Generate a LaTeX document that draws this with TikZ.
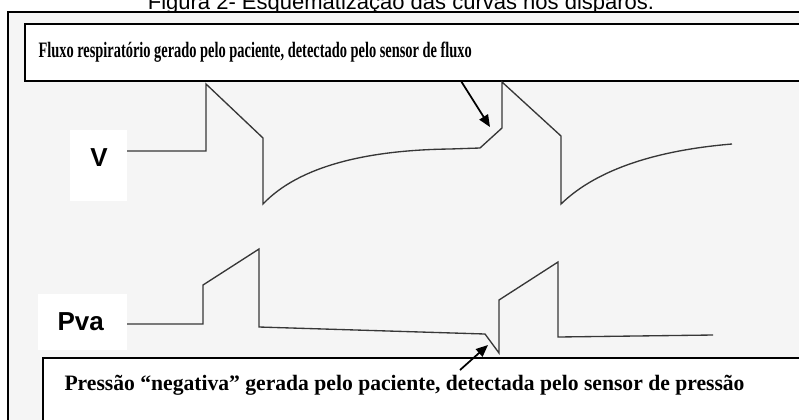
\documentclass[tikz,border=0pt]{standalone}
\usepackage{fontspec}
\setmainfont{Liberation Serif}
\newfontfamily\arialfont{Liberation Sans}
\usepackage{graphicx}
\usetikzlibrary{arrows.meta}
\tikzset{every picture/.style={line width=0.75pt}}

\begin{document}
\begin{tikzpicture}[x=0.75pt,y=0.75pt,yscale=-1,
  onda/.style={draw={rgb, 255:red, 55; green, 55; blue, 55}, line width=1pt, line join=miter},
  moldura/.style={draw=black, line width=1.1pt},
  seta/.style={-{Triangle[length=9pt,width=7.5pt]}, line width=1.3pt},
  rotulo/.style={inner sep=0pt, font=\arialfont\bfseries\fontsize{19.5}{22}\selectfont},
  legenda/.style={anchor=base west, inner sep=0pt, font=\bfseries}]
\useasboundingbox (0,0) rectangle (799,419);
\clip (0,0) rectangle (799,419);

% Title
\node [anchor=base, inner sep=0pt, font=\arialfont\fontsize{16.5}{18}\selectfont] (titulo) at (401,9) {Figura 2- Esquematização das curvas nos disparos.};

%Shape: Frame
\fill [black!4] (8,12) rectangle (830,440);
\draw [moldura] (8,440) -- (8,12) -- (830,12);
%Shape: Top box
\draw [moldura, fill=white] (25,24) rectangle (830,81);
%Shape: Bottom box
\draw [moldura, fill=white] (43,358) rectangle (830,440);
%Shape: label boxes
\fill [white] (70,130) rectangle (127,201);
\fill [white] (38,294) rectangle (127,350);

%Curve Lines: flow
\draw [onda] (127,151) -- (206,151) -- (206,84) -- (263,138) -- (263,204)
  .. controls (300,165) and (370,150) .. (450,149) -- (480,148) -- (502,128) -- (502,82)
  -- (561,136) -- (561,204) .. controls (598,168) and (660,150) .. (732,144) ;
%Straight Lines: pressure
\draw [onda] (127,324) -- (203,324) -- (203,285) -- (259,249) -- (259,327) -- (485,334)
  -- (499,353) -- (499,300) -- (558,262) -- (558,337) -- (713,335) ;

% Text Node
\node [rotulo, anchor=base] (v) at (99,166) {V};
% Text Node
\node [rotulo, anchor=base west] (pva) at (57,330) {Pva};
% Text Node
\node [legenda] (fluxo) at (38,57) {\fontsize{16.5}{19}\selectfont\resizebox{325pt}{\height}{Fluxo respiratório gerado pelo paciente, detectado pelo sensor de fluxo}};
% Text Node
\node [legenda] (pressao) at (64,390) {\fontsize{16.5}{19}\selectfont\resizebox{510pt}{\height}{Pressão “negativa” gerada pelo paciente, detectada pelo sensor de pressão}};

%Arrows
\coordinate (vtail) at (461,81);
\coordinate (vtrig) at (490,127);
\coordinate (ptail) at (460,370);
\coordinate (ptrig) at (488,345);
\draw [seta] (vtail) -- (vtrig) ;
\draw [seta] (ptail) -- (ptrig) ;

\end{tikzpicture}
\end{document}
